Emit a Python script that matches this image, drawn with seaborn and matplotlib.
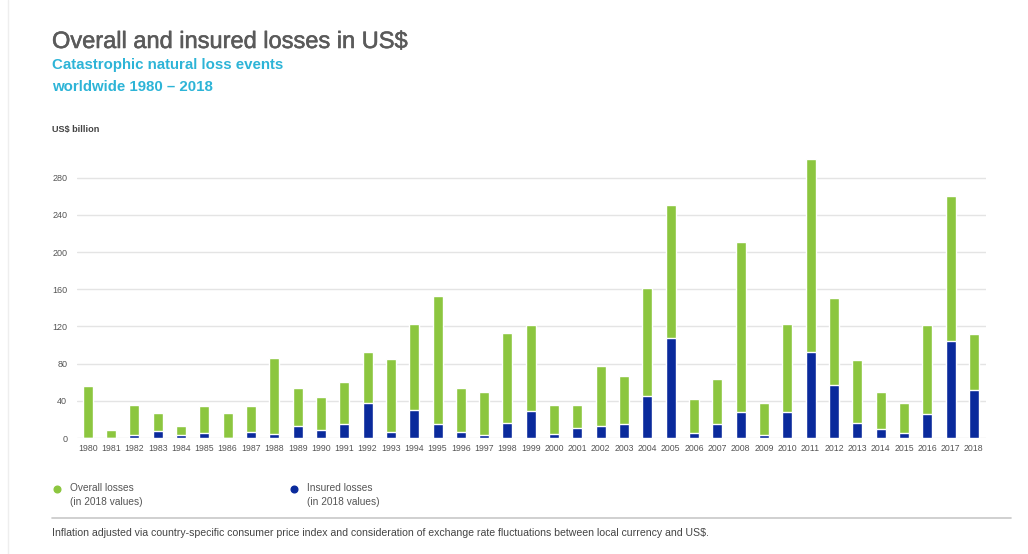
import matplotlib
matplotlib.use("Agg")
import matplotlib.pyplot as plt
import matplotlib.patheffects as pe
import seaborn as sns
import pandas as pd
from matplotlib.lines import Line2D

years = [str(y) for y in range(1980, 2019)]
overall_losses = [56, 9, 36, 27, 13, 34, 27, 34, 86, 54, 44, 60, 92, 85, 123, 153,
                  54, 50, 113, 122, 36, 35, 77, 67, 161, 251, 42, 63, 211, 38,
                  123, 300, 151, 84, 50, 38, 122, 260, 112]
insured_losses = [0.5, 0.3, 3, 8, 3, 5, 0.5, 6, 4, 13, 9, 15, 38, 6, 30, 15,
                  6, 3, 16, 29, 4, 11, 13, 15, 45, 108, 5, 15, 28, 3,
                  28, 92, 57, 16, 10, 5, 26, 104, 52]
y_ticks = [0, 40, 80, 120, 160, 200, 240, 280]

GREEN = "#8cc63f"
BLUE = "#0a2a9c"
W, H = 1028, 554

sns.set_theme(style="white")
plt.rcParams["font.family"] = ["Liberation Sans", "DejaVu Sans"]

fig = plt.figure(figsize=(W / 100, H / 100), dpi=100)
fig.patch.set_facecolor("white")

def fx(px):
    return px / W

def fy(py):
    return 1 - py / H

ax_left, ax_right, ax_top, ax_bottom = 77, 986, 159, 438
ax = fig.add_axes([fx(ax_left), fy(ax_bottom), fx(ax_right - ax_left), (ax_bottom - ax_top) / H])

df = pd.DataFrame({"year": years, "overall": overall_losses, "insured": insured_losses})
sns.barplot(data=df, x="year", y="overall", color=GREEN, saturation=1, width=0.43, ax=ax, zorder=2)
sns.barplot(data=df, x="year", y="insured", color=BLUE, saturation=1, width=0.43, ax=ax, zorder=3)

ax.set_xlim(-0.46, len(years) - 1 + 0.52)
ax.set_ylim(0, 300)
ax.set_yticks(y_ticks)
ax.set_yticklabels([str(v) for v in y_ticks])
ax.yaxis.grid(True, color="#e4e4e4", linewidth=1.0, zorder=0)
ax.set_axisbelow(True)
for s in ax.spines.values():
    s.set_visible(False)
ax.set_xlabel("")
ax.set_ylabel("")
ax.tick_params(axis="y", length=0, pad=7, labelsize=6.5, labelcolor="#555555")
ax.tick_params(axis="x", length=0, pad=4, labelsize=6.3, labelcolor="#555555")

# Titles
fig.text(fx(52), fy(48), "Overall and insured losses in US$", fontsize=17, color="#5a5a5a",
         ha="left", va="baseline",
         path_effects=[pe.withStroke(linewidth=0.4, foreground="#5a5a5a")])
fig.text(fx(52), fy(69), "Catastrophic natural loss events", fontsize=10.8, color="#2db4d7",
         fontweight="bold", ha="left", va="baseline")
fig.text(fx(52), fy(91), "worldwide 1980 \u2013 2018", fontsize=10.8, color="#2db4d7",
         fontweight="bold", ha="left", va="baseline")
fig.text(fx(52), fy(132), "US$ billion", fontsize=6.6, color="#444444",
         fontweight="bold", ha="left", va="baseline")

# Legend
fig.add_artist(Line2D([fx(57)], [fy(489)], marker="o", markersize=4.8, color=GREEN,
                      linestyle="none", transform=fig.transFigure))
fig.add_artist(Line2D([fx(294)], [fy(489)], marker="o", markersize=4.8, color=BLUE,
                      linestyle="none", transform=fig.transFigure))
fig.text(fx(70), fy(488), "Overall losses", fontsize=7.3, color="#555555", ha="left", va="center")
fig.text(fx(70), fy(502), "(in 2018 values)", fontsize=7.3, color="#555555", ha="left", va="center")
fig.text(fx(307), fy(488), "Insured losses", fontsize=7.3, color="#555555", ha="left", va="center")
fig.text(fx(307), fy(502), "(in 2018 values)", fontsize=7.3, color="#555555", ha="left", va="center")

# Separator and footnote
fig.add_artist(Line2D([fx(52), fx(1011)], [fy(517.5), fy(517.5)], color="#c8c8c8",
                      linewidth=1.2, transform=fig.transFigure))
fig.add_artist(Line2D([fx(8), fx(8)], [fy(0), fy(554)], color="#eeeeee",
                      linewidth=1.0, transform=fig.transFigure))
fig.text(fx(52), fy(533),
         "Inflation adjusted via country-specific consumer price index and consideration of "
         "exchange rate fluctuations between local currency and US$.",
         fontsize=7.6, color="#444444", ha="left", va="center")

fig.savefig("out.png", dpi=100, facecolor="white")
